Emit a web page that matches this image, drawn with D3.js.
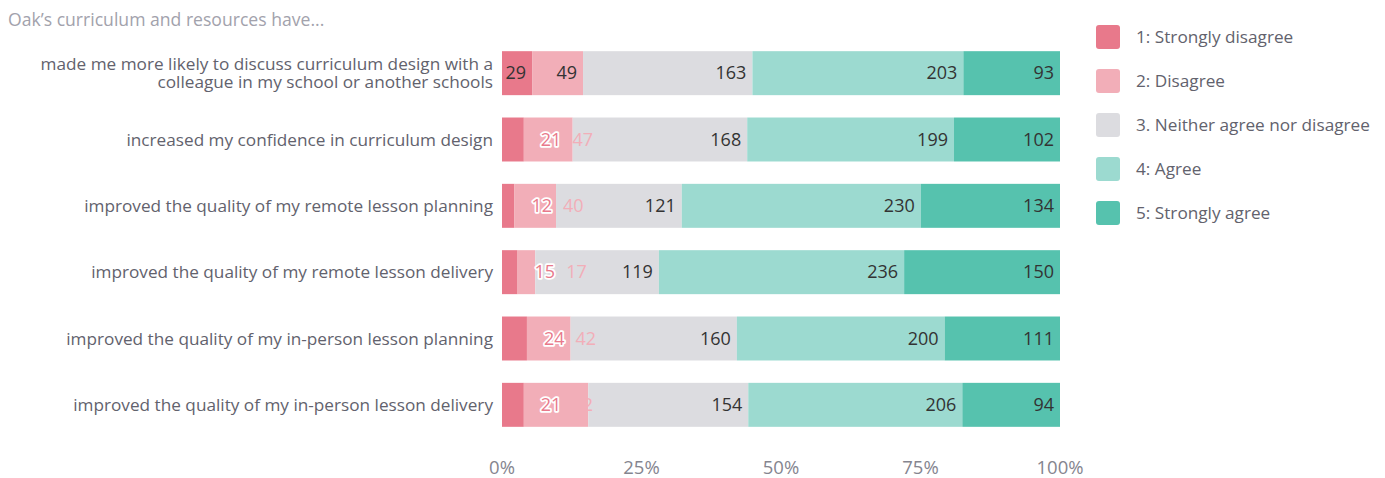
<!DOCTYPE html>
<html>
<head>
<meta charset="utf-8">
<script src="https://cdn.jsdelivr.net/npm/d3@7"></script>
<style>
  body { margin: 0; background: #fff; }
  text { font-family: "Open Sans", Lato, sans-serif; }
</style>
</head>
<body>
<script>
// chart data
let questions = [
  ['made me more likely to discuss curriculum design with a', 'colleague in my school or another schools'],
  ['increased my confidence in curriculum design'],
  ['improved the quality of my remote lesson planning'],
  ['improved the quality of my remote lesson delivery'],
  ['improved the quality of my in-person lesson planning'],
  ['improved the quality of my in-person lesson delivery']
]
let responses = ['1: Strongly disagree', '2: Disagree', '3. Neither agree nor disagree', '4: Agree', '5: Strongly agree']
let stronglyDisagree = [29, 21, 12, 15, 24, 21]
let disagree = [49, 47, 40, 17, 42, 62]
let neither = [163, 168, 121, 119, 160, 154]
let agree = [203, 199, 230, 236, 200, 206]
let stronglyAgree = [93, 102, 134, 150, 111, 94]
let tickLabels = [0, 0.25, 0.5, 0.75, 1]
let colors = ['#e8798b', '#f2aeb8', '#dcdce0', '#9cdad0', '#56c2ae']

let m = { width: 1385, height: 478, left: 502, right: 1060, top: 40, bottom: 438 }
let fs = '17.2px'

let svg = d3.select('body').append('svg')
  .attr('width', m.width)
  .attr('height', m.height)

// one row per question, five stacked values
let rows = questions.map(function(q, i) {
  let vals = [stronglyDisagree[i], disagree[i], neither[i], agree[i], stronglyAgree[i]]
  let total = d3.sum(vals)
  let acc = 0
  let segs = vals.map(function(v, k) {
    let s = { key: k, value: v, x0: acc / total, x1: (acc + v) / total }
    acc += v
    return s
  })
  return { index: i, label: q, segs: segs }
})

let x = d3.scaleLinear().domain([0, 1]).range([m.left, m.right])
let y = d3.scaleBand()
  .domain(d3.range(questions.length))
  .range([m.top, m.bottom])
  .paddingInner(0.337)
  .paddingOuter(0.1685)

svg.append('text')
  .attr('x', 8)
  .attr('y', 26)
  .attr('fill', '#a2a2ac')
  .style('font-size', '17.6px')
  .text('Oak\u2019s curriculum and resources have...')

let rowG = svg.selectAll('g.row')
  .data(rows)
  .enter()
  .append('g')
  .attr('class', 'row')
  .attr('transform', function(d) { return 'translate(0,' + y(d.index) + ')' })

rowG.selectAll('rect')
  .data(function(d) { return d.segs })
  .enter()
  .append('rect')
  .attr('x', function(s) { return x(s.x0) })
  .attr('width', function(s) { return x(s.x1) - x(s.x0) })
  .attr('height', y.bandwidth())
  .attr('fill', function(s) { return colors[s.key] })

// question labels
rowG.append('text')
  .attr('text-anchor', 'end')
  .attr('fill', '#62626d')
  .style('font-size', fs)
  .each(function(d) {
    let t = d3.select(this)
    let n = d.label.length
    d.label.forEach(function(line, j) {
      t.append('tspan')
        .attr('x', m.left - 9)
        .attr('y', y.bandwidth() / 2 + (j - (n - 1) / 2) * 18)
        .attr('dy', '0.35em')
        .text(line)
    })
  })

// value labels: inside when they fit, otherwise pushed to the right
rowG.each(function(d) {
  let g = d3.select(this)
  let cursor = null
  d.segs.forEach(function(s) {
    let w = x(s.x1) - x(s.x0)
    let t = g.append('text')
      .attr('y', y.bandwidth() / 2)
      .attr('dy', '0.35em')
      .style('font-size', '18px')
      .text(s.value)
    let tw = t.node().getComputedTextLength()
    if (cursor === null && tw + 6 <= w) {
      t.attr('x', x(s.x1) - 6).attr('text-anchor', 'end').attr('fill', '#333')
    } else if (s.key === 0) {
      t.attr('x', x(s.x1) + 17).attr('fill', colors[0])
        .attr('stroke', '#fff').attr('stroke-width', 3.5)
        .attr('paint-order', 'stroke').attr('stroke-linejoin', 'round')
      cursor = x(s.x1) + 17 + tw + 11
    } else if (cursor !== null) {
      t.attr('x', cursor).attr('fill', colors[s.key])
      cursor = null
    }
  })
})

// x axis labels
svg.selectAll('text.tick')
  .data(tickLabels)
  .enter()
  .append('text')
  .attr('class', 'tick')
  .attr('x', function(d) { return x(d) })
  .attr('y', 474)
  .attr('text-anchor', 'middle')
  .attr('fill', '#85858f')
  .style('font-size', '18.5px')
  .text(d3.format('.0%'))

// legend
let leg = svg.selectAll('g.legend')
  .data(responses)
  .enter()
  .append('g')
  .attr('class', 'legend')
  .attr('transform', function(d, i) { return 'translate(1096,' + (25 + i * 44) + ')' })

leg.append('rect')
  .attr('width', 24)
  .attr('height', 24)
  .attr('rx', 3)
  .attr('fill', function(d, i) { return colors[i] })

leg.append('text')
  .attr('x', 40)
  .attr('y', 12)
  .attr('dy', '0.35em')
  .attr('fill', '#62626d')
  .style('font-size', fs)
  .text(function(d) { return d })
</script>
</body>
</html>
